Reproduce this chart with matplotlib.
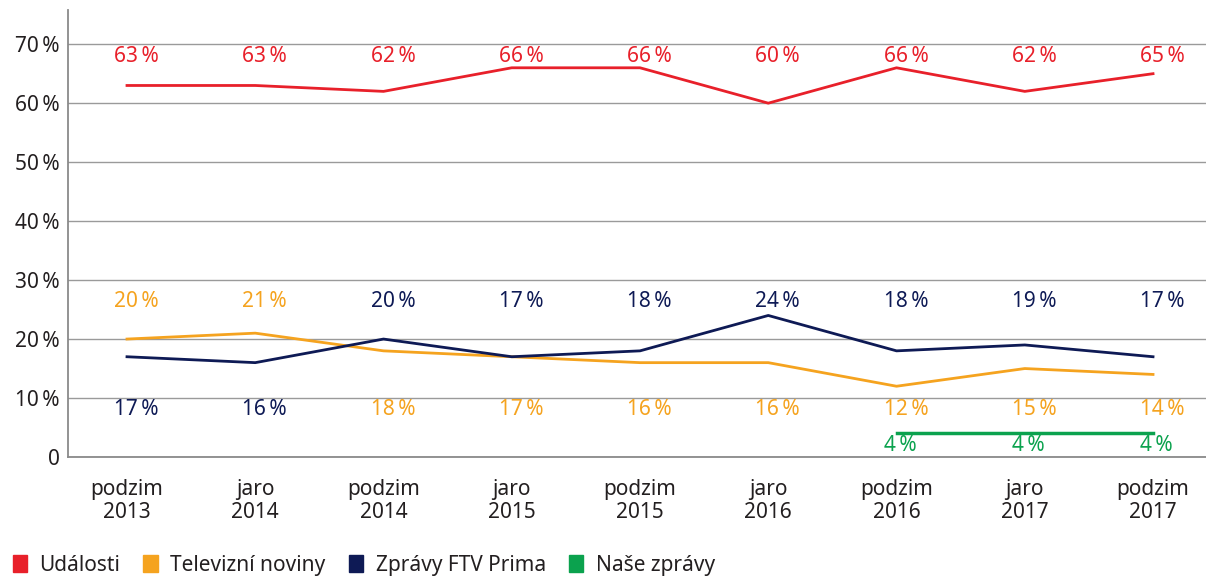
import matplotlib
matplotlib.use("Agg")
import matplotlib.pyplot as plt
import matplotlib.transforms as mtrans
from matplotlib.patches import Patch
import numpy as np

categories = ["podzim\n2013", "jaro\n2014", "podzim\n2014", "jaro\n2015", "podzim\n2015",
              "jaro\n2016", "podzim\n2016", "jaro\n2017", "podzim\n2017"]
udalosti = [63, 63, 62, 66, 66, 60, 66, 62, 65]
televizni = [20, 21, 18, 17, 16, 16, 12, 15, 14]
prima = [17, 16, 20, 17, 18, 24, 18, 19, 17]
nase = [None, None, None, None, None, None, 4, 4, 4]
series_names = ["Události", "Televizní noviny", "Zprávy FTV Prima", "Naše zprávy"]
yticks = [0, 10, 20, 30, 40, 50, 60, 70]
ytick_labels = ["0", "10\u2009%", "20\u2009%", "30\u2009%", "40\u2009%", "50\u2009%", "60\u2009%", "70\u2009%"]

RED = "#E8202A"
ORANGE = "#F5A31F"
NAVY = "#0E1A55"
GREEN = "#0BA24E"
TXT = "#231F20"

plt.rcParams['font.family'] = ['Noto Sans', 'DejaVu Sans']

fig = plt.figure(figsize=(12.06, 5.77), dpi=100)
ax = fig.add_axes([68/1206, 1-457/577, 1-68/1206, 447/577])

x = np.arange(len(categories))
ax.plot(x, udalosti, color=RED, lw=2)
ax.plot(x, televizni, color=ORANGE, lw=2)
ax.plot(x, prima, color=NAVY, lw=2)
xn = [i for i, v in enumerate(nase) if v is not None]
ax.plot(xn, [nase[i] for i in xn], color=GREEN, lw=2.5)

fs = 15
lab_tr = ax.transData + mtrans.ScaledTranslation(-0.13, 0, fig.dpi_scale_trans)
def pct(v):
    return f"{v}\u2009%"
def lab(i, y, v, c):
    ax.text(i, y, pct(v), color=c, ha='left', va='center', fontsize=fs, transform=lab_tr)

for i in x:
    lab(i, 67.9, udalosti[i], RED)
    if prima[i] >= televizni[i]:
        top, topc, bot, botc = prima[i], NAVY, televizni[i], ORANGE
    else:
        top, topc, bot, botc = televizni[i], ORANGE, prima[i], NAVY
    lab(i, 26.3, top, topc)
    lab(i, 8.0, bot, botc)
for i in xn:
    lab(i, 1.9, nase[i], GREEN)

ax.set_xlim(-0.46, 8.413)
ax.set_ylim(0, 75.8)
ax.set_yticks(yticks)
ax.set_yticklabels(ytick_labels, fontsize=fs, color=TXT)
ax.set_xticks(x)
ax.set_xticklabels(categories, fontsize=fs, color=TXT, linespacing=1.12)
ax.tick_params(axis='both', length=0, pad=6)
ax.tick_params(axis='x', pad=16)
ax.grid(axis='y', color='#9A9A9A', lw=1)
ax.set_axisbelow(True)
for s in ['top', 'right']:
    ax.spines[s].set_visible(False)
ax.spines['left'].set_color('#8A8A8A')
ax.spines['bottom'].set_color('#8A8A8A')
ax.spines['left'].set_linewidth(1.3)
ax.spines['bottom'].set_linewidth(1.3)

handles = [Patch(color=c) for c in [RED, ORANGE, NAVY, GREEN]]
fig.legend(handles, series_names, loc='lower left', bbox_to_anchor=(0.0, -0.02), ncol=4,
           frameon=False, fontsize=fs, handlelength=0.7, handleheight=0.9,
           handletextpad=0.6, columnspacing=1.1, labelcolor=TXT, borderpad=0.1)

fig.savefig("out.png", dpi=100)
